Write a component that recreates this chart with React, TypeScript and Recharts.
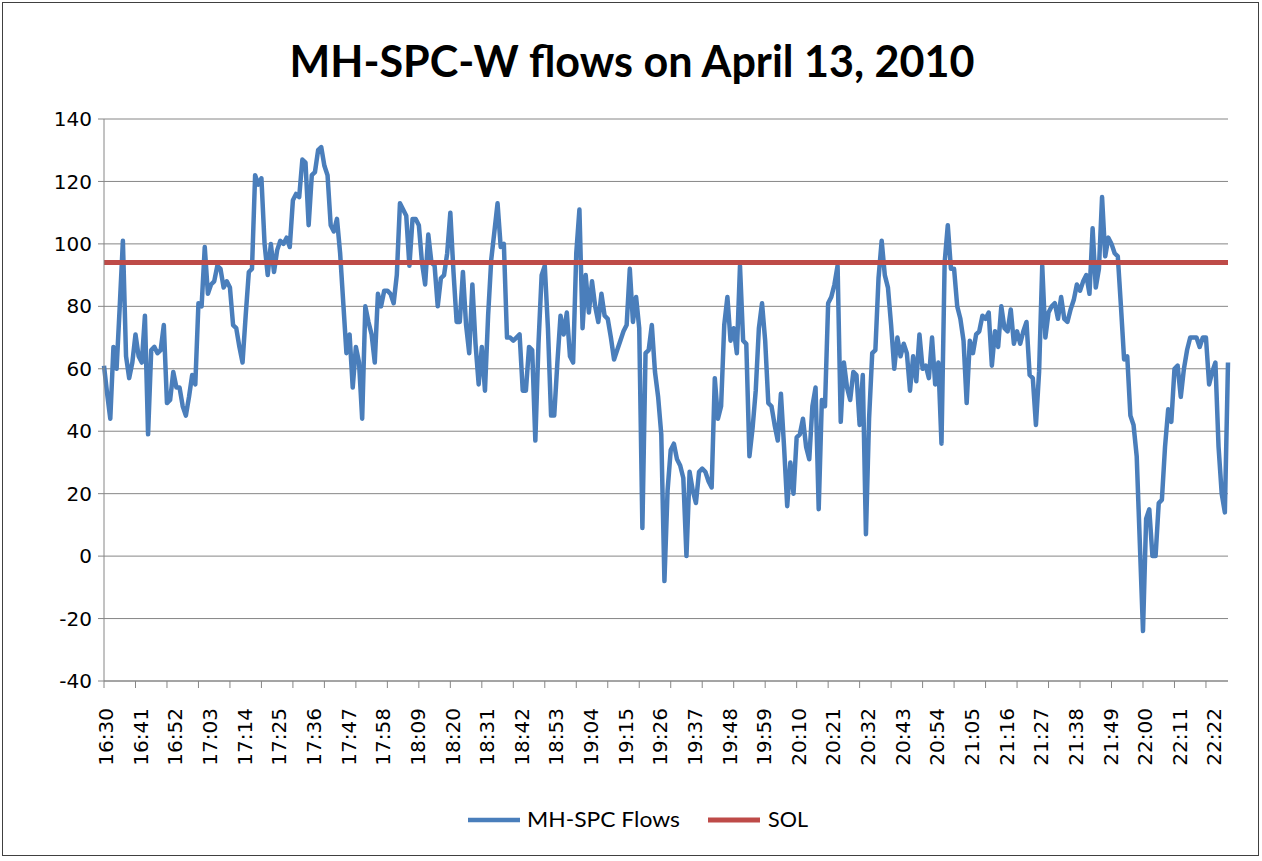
import React from "react";
import { LineChart, Line, XAxis, YAxis, CartesianGrid } from "recharts";

// one reading per minute, starting 16:30
const START_MINUTE = 16 * 60 + 30;

const flows = [
  61, 52, 44, 67, 60, 80, 101, 64, 57, 62,
  71, 64, 62, 77, 39, 66, 67, 65, 66, 74,
  49, 50, 59, 54, 54, 48, 45, 51, 58, 55,
  81, 80, 99, 84, 87, 88, 93, 92, 86, 88,
  86, 74, 73, 67, 62, 77, 91, 92, 122, 119,
  121, 100, 90, 100, 91, 98, 101, 100, 102, 99,
  114, 116, 115, 127, 126, 106, 122, 123, 130, 131,
  125, 122, 106, 104, 108, 97, 81, 65, 71, 54,
  67, 62, 44, 80, 75, 71, 62, 84, 80, 85,
  85, 84, 81, 90, 113, 111, 109, 93, 108, 108,
  106, 94, 87, 103, 94, 93, 80, 89, 90, 97,
  110, 91, 75, 75, 91, 74, 65, 87, 68, 55,
  67, 53, 77, 95, 104, 113, 99, 100, 70, 70,
  69, 70, 71, 53, 53, 67, 66, 37, 68, 90,
  93, 73, 45, 45, 62, 77, 71, 78, 64, 62,
  97, 111, 73, 90, 78, 88, 80, 75, 84, 77,
  76, 70, 63, 66, 69, 72, 74, 92, 75, 83,
  73, 9, 65, 66, 74, 59, 51, 39, -8, 21,
  34, 36, 31, 29, 25, 0, 27, 21, 17, 27,
  28, 27, 24, 22, 57, 44, 48, 74, 83, 69,
  73, 65, 93, 69, 68, 32, 41, 53, 73, 81,
  69, 49, 48, 42, 37, 52, 35, 16, 30, 20,
  38, 39, 44, 35, 31, 48, 54, 15, 50, 48,
  81, 83, 87, 93, 43, 62, 54, 50, 59, 58,
  42, 58, 7, 44, 65, 66, 89, 101, 90, 86,
  74, 60, 70, 64, 68, 65, 53, 64, 56, 71,
  60, 61, 57, 70, 55, 62, 36, 94, 106, 92,
  92, 80, 76, 69, 49, 69, 65, 71, 72, 77,
  76, 78, 61, 72, 67, 80, 73, 72, 79, 68,
  72, 68, 72, 75, 58, 57, 42, 59, 93, 70,
  78, 80, 81, 76, 83, 76, 75, 79, 82, 87,
  85, 88, 90, 84, 105, 86, 92, 115, 96, 102,
  100, 97, 96, 80, 63, 64, 45, 42, 32, 4,
  -24, 12, 15, 0, 0, 17, 18, 35, 47, 43,
  60, 61, 51, 60, 66, 70, 70, 70, 67, 70,
  70, 55, 59, 62, 35, 20, 14, 62,
];

const SOL = 94;
const yTicks = [-40, -20, 0, 20, 40, 60, 80, 100, 120, 140];
const LABEL_EVERY = 11;
const MARK_EVERY = 10;

const BLUE = "#4A7EBB";
const RED = "#BE4B48";
const GRID = "#868686";
const FONT = "'DejaVu Sans', sans-serif";

const fmt = (m: number) =>
  `${Math.floor(m / 60)}:${String(m % 60).padStart(2, "0")}`;

const data = flows.map((v, i) => ({
  time: fmt(START_MINUTE + i),
  flow: v,
  sol: SOL,
}));

function TimeTick(props: any) {
  const { x, y, payload } = props;
  const i = payload.index;
  const ty = y + 27;
  return (
    <g>
      {i % MARK_EVERY === 0 && (
        <line x1={x} x2={x} y1={y} y2={y + 7} stroke={GRID} strokeWidth={1} />
      )}
      {i % LABEL_EVERY === 0 && (
        <text
          x={x + 2}
          y={ty}
          transform={`rotate(-90, ${x + 2}, ${ty})`}
          textAnchor="end"
          dy="0.36em"
          fontFamily={FONT}
          fontSize={20}
          fill="#000"
        >
          {payload.value}
        </text>
      )}
    </g>
  );
}

export default function App() {
  return (
    <div
      style={{
        position: "absolute",
        left: 0,
        top: 0,
        width: 1262,
        height: 861,
        background: "#fff",
      }}
    >
      <div
        style={{
          position: "absolute",
          left: 2,
          top: 2,
          width: 1255,
          height: 852,
          border: "1px solid #404040",
        }}
      />
      <svg
        width={1262}
        height={100}
        style={{ position: "absolute", left: 0, top: 0 }}
      >
        <text
          x={632}
          y={77}
          textAnchor="middle"
          fontFamily="Lato, sans-serif"
          fontWeight="bold"
          fontSize={44}
          textLength={685}
          lengthAdjust="spacingAndGlyphs"
          fill="#000"
        >
          MH-SPC-W flows on April 13, 2010
        </text>
      </svg>
      <div style={{ position: "absolute", left: 0, top: 0 }}>
        <LineChart
          width={1262}
          height={861}
          data={data}
          margin={{ top: 119, right: 34, bottom: 80, left: 0 }}
        >
          <CartesianGrid vertical={false} stroke={GRID} strokeWidth={1} />
          <XAxis
            dataKey="time"
            interval={0}
            height={100}
            tickLine={false}
            tickSize={0}
            tickMargin={0}
            axisLine={{ stroke: GRID, strokeWidth: 1 }}
            tick={<TimeTick />}
          />
          <YAxis
            domain={[-40, 140]}
            ticks={yTicks}
            width={104}
            tickSize={6}
            tickMargin={6}
            tickLine={{ stroke: GRID }}
            axisLine={{ stroke: GRID, strokeWidth: 1 }}
            tick={{ fontFamily: FONT, fontSize: 20, fill: "#000" }}
          />
          <Line
            type="linear"
            dataKey="flow"
            stroke={BLUE}
            strokeWidth={4.5}
            dot={false}
            strokeLinejoin="round"
            isAnimationActive={false}
          />
          <Line
            type="linear"
            dataKey="sol"
            stroke={RED}
            strokeWidth={5}
            dot={false}
            isAnimationActive={false}
          />
        </LineChart>
      </div>
      <svg
        width={1262}
        height={60}
        style={{ position: "absolute", left: 0, top: 790 }}
      >
        <line x1={468} x2={520} y1={30} y2={30} stroke={BLUE} strokeWidth={4.5} />
        <text
          x={527}
          y={37}
          fontFamily="Lato, sans-serif"
          fontSize={21}
          textLength={153}
          lengthAdjust="spacingAndGlyphs"
          fill="#000"
        >
          MH-SPC Flows
        </text>
        <line x1={708} x2={760} y1={30} y2={30} stroke={RED} strokeWidth={5} />
        <text
          x={768}
          y={37}
          fontFamily="Lato, sans-serif"
          fontSize={21}
          textLength={40}
          lengthAdjust="spacingAndGlyphs"
          fill="#000"
        >
          SOL
        </text>
      </svg>
    </div>
  );
}
